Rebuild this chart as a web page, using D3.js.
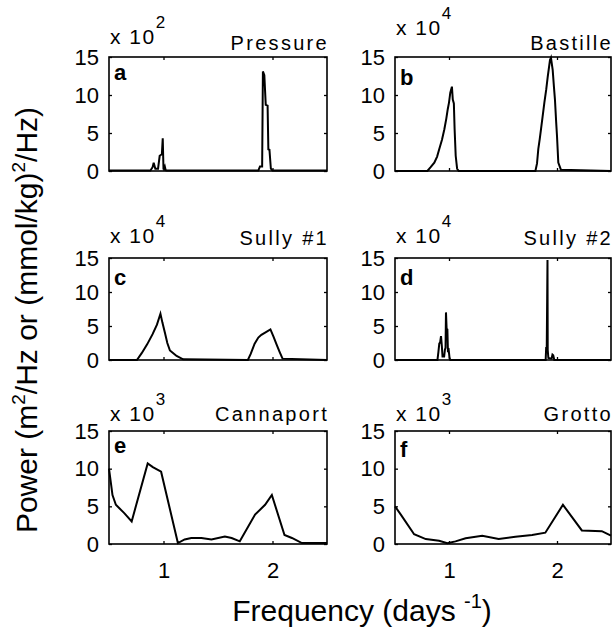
<!DOCTYPE html>
<html>
<head>
<meta charset="utf-8">
<script src="https://cdn.jsdelivr.net/npm/d3@7"></script>
<style>
  html, body { margin: 0; padding: 0; background: #fff; }
  svg { display: block; font-family: "Liberation Sans", Arial, Helvetica, sans-serif; }
</style>
</head>
<body>
<svg id="chart" width="616" height="628"></svg>
<script>
// Power spectra, frequency in cycles per day, power in units of 10^exponent

const siteTitles = ["Pressure", "Bastille", "Sully #1", "Sully #2", "Cannaport", "Grotto"];
const panelLetters = ["a", "b", "c", "d", "e", "f"];
const powerExponents = [2, 4, 4, 4, 3, 3];

const yTickValues = [0, 5, 10, 15];
const xTickValues = [1, 2];
const xDomain = [0.5, 2.5];
const yDomain = [0, 15];

const pressureFreq  = [0.5, 0.88, 0.90, 0.91, 0.925, 0.95, 0.965, 0.975, 0.985, 0.993, 1.0, 1.012, 1.02, 1.03,
                       1.87, 1.885, 1.905, 1.912, 1.925, 1.938, 1.955, 1.962, 1.972, 1.985, 2.0, 2.5];
const pressurePower = [0.05, 0.05, 0.5, 1.1, 0.3, 0.3, 2.0, 2.1, 2.2, 4.3, 0.2, 0.6, 0.1, 0.05,
                       0.05, 0.6, 0.6, 13.1, 12.6, 8.7, 8.6, 2.85, 2.8, 0.3, 0.05, 0.05];

const bastilleFreq  = [0.5, 0.80, 0.83, 0.864, 0.89, 0.91, 0.935, 0.957, 0.975, 0.988, 1.0, 1.012, 1.027,
                       1.035, 1.045, 1.052, 1.062, 1.075, 1.09,
                       1.80, 1.815, 1.827, 1.84, 1.852, 1.867, 1.883, 1.9, 1.914, 1.935, 1.944, 1.96,
                       1.972, 1.981, 1.992, 2.0, 2.012, 2.036, 2.5];
const bastillePower = [0, 0, 0.5, 1.1, 1.9, 2.9, 4.1, 5.5, 6.9, 8.1, 9.0, 10.3, 11.1,
                       9.4, 8.9, 5.5, 2.0, 0.3, 0,
                       0, 1.0, 2.9, 4.2, 5.5, 7.2, 9.0, 10.7, 12.4, 14.6, 14.9, 13.3,
                       11.0, 9.4, 6.5, 4.6, 1.1, 0.17, 0];

const sully1Freq  = [0.5, 0.756, 0.80, 0.85, 0.90, 0.94, 0.972, 0.99, 1.013, 1.035, 1.059, 1.09, 1.12, 1.18,
                     1.774, 1.80, 1.836, 1.87, 1.898, 1.94, 1.981, 2.01, 2.037, 2.065, 2.092, 2.5];
const sully1Power = [0, 0, 1.0, 2.3, 3.8, 5.2, 6.8, 5.5, 4.0, 2.5, 1.4, 1.0, 0.6, 0.1,
                     0, 0.9, 2.4, 3.3, 3.7, 4.1, 4.5, 3.4, 2.3, 1.2, 0.2, 0];

const sully2Freq  = [0.5, 0.893, 0.902, 0.91, 0.918, 0.926, 0.934, 0.94, 0.955, 0.962, 0.968, 0.972, 0.978,
                     0.985, 0.99, 0.997, 1.005, 1.012,
                     1.895, 1.9, 1.905, 1.909, 1.912, 1.914, 1.92, 1.95, 1.958, 1.965, 1.975, 2.5];
const sully2Power = [0, 0, 1.2, 2.4, 2.6, 3.5, 2.0, 0.5, 0.5, 1.5, 1.8, 7.0, 4.6,
                     4.5, 1.4, 1.5, 0.3, 0,
                     0, 1.9, 1.7, 9.1, 14.7, 1.5, 0.3, 0.2, 0.8, 0.7, 0, 0];

const cannaportFreq  = [0.5, 0.532, 0.563, 0.64, 0.708, 0.855, 0.902, 0.978, 1.132, 1.194, 1.255, 1.348,
                        1.44, 1.563, 1.625, 1.70, 1.84, 1.932, 1.994, 2.11, 2.178, 2.27, 2.5];
const cannaportPower = [10.0, 6.5, 5.2, 4.1, 3.0, 10.7, 10.2, 9.6, 0.13, 0.6, 0.8, 0.8,
                        0.6, 1.0, 0.8, 0.35, 3.9, 5.2, 6.5, 1.2, 0.8, 0.13, 0.13];

const grottoFreq  = [0.5, 0.554, 0.677, 0.785, 0.908, 0.985, 1.06, 1.154, 1.308, 1.46, 1.615, 1.77,
                     1.892, 2.055, 2.23, 2.415, 2.5];
const grottoPower = [5.0, 3.9, 1.3, 0.65, 0.43, 0.1, 0.35, 0.75, 1.1, 0.65, 0.95, 1.2,
                     1.5, 5.2, 1.8, 1.7, 1.1];

const seriesFreq  = [pressureFreq, bastilleFreq, sully1Freq, sully2Freq, cannaportFreq, grottoFreq];
const seriesPower = [pressurePower, bastillePower, sully1Power, sully2Power, cannaportPower, grottoPower];

// Panel frames: columns and rows of the 3 x 2 grid
const columns = [{ x0: 109, x1: 327 }, { x0: 395, x1: 611 }];
const rows = [
  { y0: 57,  y1: 171, title: 50,  expo: [44, 35],  letter: [23, 28] },
  { y0: 258, y1: 360, title: 245, expo: [243, 243], letter: [27, 27] },
  { y0: 431, y1: 544, title: 421, expo: [421, 421], letter: [22, 26] }
];

const svg = d3.select("#chart");
svg.append("rect").attr("width", 616).attr("height", 628).attr("fill", "#fff");

siteTitles.forEach((title, i) => {
  const col = columns[i % 2];
  const row = rows[Math.floor(i / 2)];
  const isBottom = Math.floor(i / 2) === rows.length - 1;

  const x = d3.scaleLinear().domain(xDomain).range([col.x0, col.x1]);
  const y = d3.scaleLinear().domain(yDomain).range([row.y1, row.y0]);

  const g = svg.append("g");

  // Left axis with labels, ticks pointing inward
  const left = g.append("g")
    .attr("transform", `translate(${col.x0},0)`)
    .call(d3.axisLeft(y).tickValues(yTickValues).tickSize(-3).tickPadding(10));
  // Right, top and bottom inward ticks without labels
  const right = g.append("g")
    .attr("transform", `translate(${col.x1},0)`)
    .call(d3.axisRight(y).tickValues(yTickValues).tickSize(-3).tickFormat(""));
  const top = g.append("g")
    .attr("transform", `translate(0,${row.y0})`)
    .call(d3.axisTop(x).tickValues(xTickValues).tickSize(-3).tickFormat(""));
  const bottom = g.append("g")
    .attr("transform", `translate(0,${row.y1})`)
    .call(d3.axisBottom(x).tickValues(xTickValues).tickSize(-3).tickPadding(18)
      .tickFormat(isBottom ? d3.format("d") : () => ""));

  [left, right, top, bottom].forEach(a => {
    a.select(".domain").remove();
    a.selectAll(".tick line").attr("stroke", "#000").attr("stroke-width", 1.3);
    a.selectAll(".tick text")
      .attr("fill", "#000")
      .style("font-family", '"Liberation Sans", Arial, sans-serif')
      .style("font-size", "22px");
  });
  left.attr("text-anchor", "end");

  // Spectrum trace
  const line = d3.line()
    .x(d => x(d[0]))
    .y(d => y(d[1]));
  const pts = seriesFreq[i].map((f, k) => [f, seriesPower[i][k]]);
  g.append("path")
    .datum(pts)
    .attr("d", line)
    .attr("fill", "none")
    .attr("stroke", "#000")
    .attr("stroke-width", 2)
    .attr("stroke-linejoin", "miter");

  // Plot box
  g.append("rect")
    .attr("x", col.x0).attr("y", row.y0)
    .attr("width", col.x1 - col.x0).attr("height", row.y1 - row.y0)
    .attr("fill", "none").attr("stroke", "#000").attr("stroke-width", 1.6);

  // Panel letter
  g.append("text")
    .attr("x", col.x0 + 5)
    .attr("y", row.y0 + row.letter[i % 2])
    .attr("font-size", 22).attr("font-weight", "bold")
    .text(panelLetters[i]);

  // Exponent label "x 10^n"
  const ex = g.append("text")
    .attr("x", col.x0 + 1)
    .attr("y", row.expo[i % 2])
    .attr("font-size", 21)
    .attr("letter-spacing", 1.5);
  ex.append("tspan").text("x 10");
  ex.append("tspan")
    .attr("dy", -16)
    .attr("dx", 0)
    .attr("font-size", 17)
    .attr("letter-spacing", 0)
    .text(powerExponents[i]);

  // Site title, right aligned over the box
  g.append("text")
    .attr("x", col.x1 + 2)
    .attr("y", row.title)
    .attr("text-anchor", "end")
    .attr("font-size", 20)
    .attr("letter-spacing", 2.3)
    .text(title);
});

// Shared axis titles
const yTitle = svg.append("text")
  .attr("transform", "translate(37,320) rotate(-90)")
  .attr("text-anchor", "middle")
  .attr("font-size", 30);
yTitle.append("tspan").text("Power (m");
yTitle.append("tspan").attr("dy", -12).attr("font-size", 19).text("2");
yTitle.append("tspan").attr("dy", 12).text("/Hz or (mmol/kg)");
yTitle.append("tspan").attr("dy", -12).attr("font-size", 19).text("2");
yTitle.append("tspan").attr("dy", 12).text("/Hz)");

const xTitle = svg.append("text")
  .attr("x", 362)
  .attr("y", 621)
  .attr("text-anchor", "middle")
  .attr("font-size", 30);
xTitle.append("tspan").text("Frequency (days ");
xTitle.append("tspan").attr("dy", -13).attr("font-size", 20).text("-1");
xTitle.append("tspan").attr("dy", 13).text(")");
</script>
</body>
</html>
